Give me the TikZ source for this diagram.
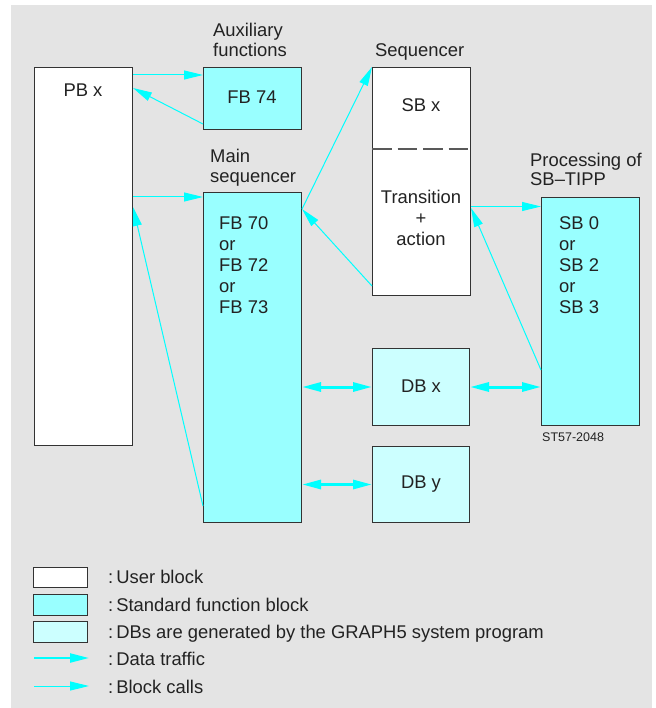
\documentclass[tikz,border=0pt]{standalone}
\usepackage{fontspec}
\setmainfont{Liberation Sans}
\usetikzlibrary{arrows.meta,calc}

\definecolor{panel}{HTML}{E4E4E4}
\definecolor{flow}{HTML}{00FFFF}
\definecolor{stdfb}{HTML}{99FFFF}
\definecolor{dbfill}{HTML}{CCFFFF}
\definecolor{ink}{HTML}{222222}
\definecolor{frame}{HTML}{333333}

\tikzset{
  block/.style={draw=frame, line width=1pt, inner sep=0pt, anchor=north west},
  userblock/.style={block, fill=white},
  fbblock/.style={block, fill=stdfb},
  dbblock/.style={block, fill=dbfill},
  lbl/.style={inner sep=0pt, anchor=base west, text=ink, font=\fontsize{18.4}{20.8}\selectfont},
  ctext/.style={inner sep=0pt, align=center, text=ink, font=\fontsize{18.4}{20.8}\selectfont},
  head/.tip={Triangle[length=19pt 0, width=9pt 0]},
  blockcall/.style={draw=flow, line width=1pt, -head},
  datatraffic/.style={draw=flow, line width=3pt, head-head},
  datalegend/.style={draw=flow, line width=2.2pt, -head},
}
\newcommand{\keycolon}{:\kern3pt}

\begin{document}
\begin{tikzpicture}[x=1pt,y=-1pt]
  \useasboundingbox (0,0) rectangle (655,708);
  \fill[white] (0,0) rectangle (655,708);
  \fill[panel] (11,5) rectangle (652,708);

  % blocks
  \node[userblock, minimum width=98pt, minimum height=378pt] (pbx) at (34,67) {};
  \node[fbblock, minimum width=98pt, minimum height=62pt] (fb74) at (203,67) {};
  \node[fbblock, minimum width=98pt, minimum height=330pt] (main) at (203,192) {};
  \node[userblock, minimum width=98pt, minimum height=228pt] (seq) at (372,67) {};
  \node[fbblock, minimum width=98pt, minimum height=228pt] (proc) at (541,197) {};
  \node[dbblock, minimum width=97pt, minimum height=77pt] (dbx) at (372,348) {};
  \node[dbblock, minimum width=97pt, minimum height=76pt] (dby) at (372,446) {};

  % step/transition separator in the sequencer
  \draw[draw=gray!70!black, line width=1.3pt, dash pattern=on 19.5pt off 6pt]
    (seq.west |- 0,149) coordinate (sepL) -- (seq.east |- 0,149) coordinate (sepR);

  % headings
  \node[lbl] (auxA) at (213,37) {Auxiliary};
  \node[lbl] (auxB) at (213,57) {functions};
  \node[lbl] (mainA) at (210,163) {Main};
  \node[lbl] (mainB) at (210,183) {sequencer};
  \node[lbl] (seqt) at (375,57) {Sequencer};
  \node[lbl] (procA) at (530,167) {Processing of};
  \node[lbl] (procB) at (530,186) {SB–TIPP};
  \node[inner sep=0pt, anchor=base west, text=ink, font=\fontsize{12.5}{14}\selectfont] (code) at (542,441) {ST57-2048};

  % block contents (multi-line nodes are anchored on their last baseline)
  \node[ctext] (pbxt) at (83,90) {PB x};
  \node[ctext] (fb74t) at (252,97) {FB 74};
  \node[lbl, align=left, anchor=base west] (maint) at (219,313)
    {FB 70\\or\\FB 72\\or\\FB 73};
  \node[ctext] (sbxt) at (421,105) {SB x};
  \node[lbl, align=center, anchor=base] (trant) at (421,245) {Transition\\+\\action};
  \node[lbl, align=left, anchor=base west] (proct) at (559,313)
    {SB 0\\or\\SB 2\\or\\SB 3};
  \node[ctext] (dbxt) at (421,386) {DB x};
  \node[ctext] (dbyt) at (421,484) {DB y};

  % block calls
  \draw[blockcall] ($(pbx.north east)+(0,8)$) -- ($(fb74.north west)+(0,8)$);
  \draw[blockcall] ($(fb74.south west)+(0,-6)$) -- ($(pbx.north east)+(0,21)$);
  \draw[blockcall] ($(pbx.north east)+(0,130)$) -- ($(main.north west)+(0,5)$);
  \draw[blockcall] ($(main.south west)+(0,-17)$) -- ($(pbx.north east)+(0,140)$);
  \draw[blockcall] ($(main.north east)+(0,17)$) -- (seq.north west);
  \draw[blockcall] ($(seq.south west)+(0,-10)$) -- ($(main.north east)+(0,17)$);
  \draw[blockcall] ($(seq.north east)+(0,139.5)$) -- ($(proc.north west)+(0,9.5)$);
  \draw[blockcall] ($(proc.north west)+(0,173)$) -- ($(seq.north east)+(0,141)$);

  % data traffic
  \draw[datatraffic] (main.east |- dbx.west) -- (dbx.west);
  \draw[datatraffic] (dbx.east) -- (proc.west |- dbx.east);
  \draw[datatraffic] (main.east |- dby.west) -- (dby.west);

  % legend
  \node[userblock, minimum width=54pt, minimum height=20pt] (keyuser) at (33,567) {};
  \node[fbblock, minimum width=54pt, minimum height=21pt] (keyfb) at (33,594) {};
  \node[dbblock, minimum width=54pt, minimum height=21pt] (keydb) at (33,621) {};
  \coordinate (keydataA) at (34,658);
  \coordinate (keydataB) at (89,658);
  \coordinate (keycallA) at (34,686);
  \coordinate (keycallB) at (89,686);
  \draw[datalegend] (keydataA) -- (keydataB);
  \draw[blockcall] (keycallA) -- (keycallB);
  \node[lbl] (keyusert) at (108,583) {\keycolon User block};
  \node[lbl] (keyfbt) at (108,611) {\keycolon Standard function block};
  \node[lbl] (keydbt) at (108,638) {\keycolon DBs are generated by the GRAPH5 system program};
  \node[lbl] (keydatat) at (108,665) {\keycolon Data traffic};
  \node[lbl] (keycallt) at (108,693) {\keycolon Block calls};
\end{tikzpicture}
\end{document}
